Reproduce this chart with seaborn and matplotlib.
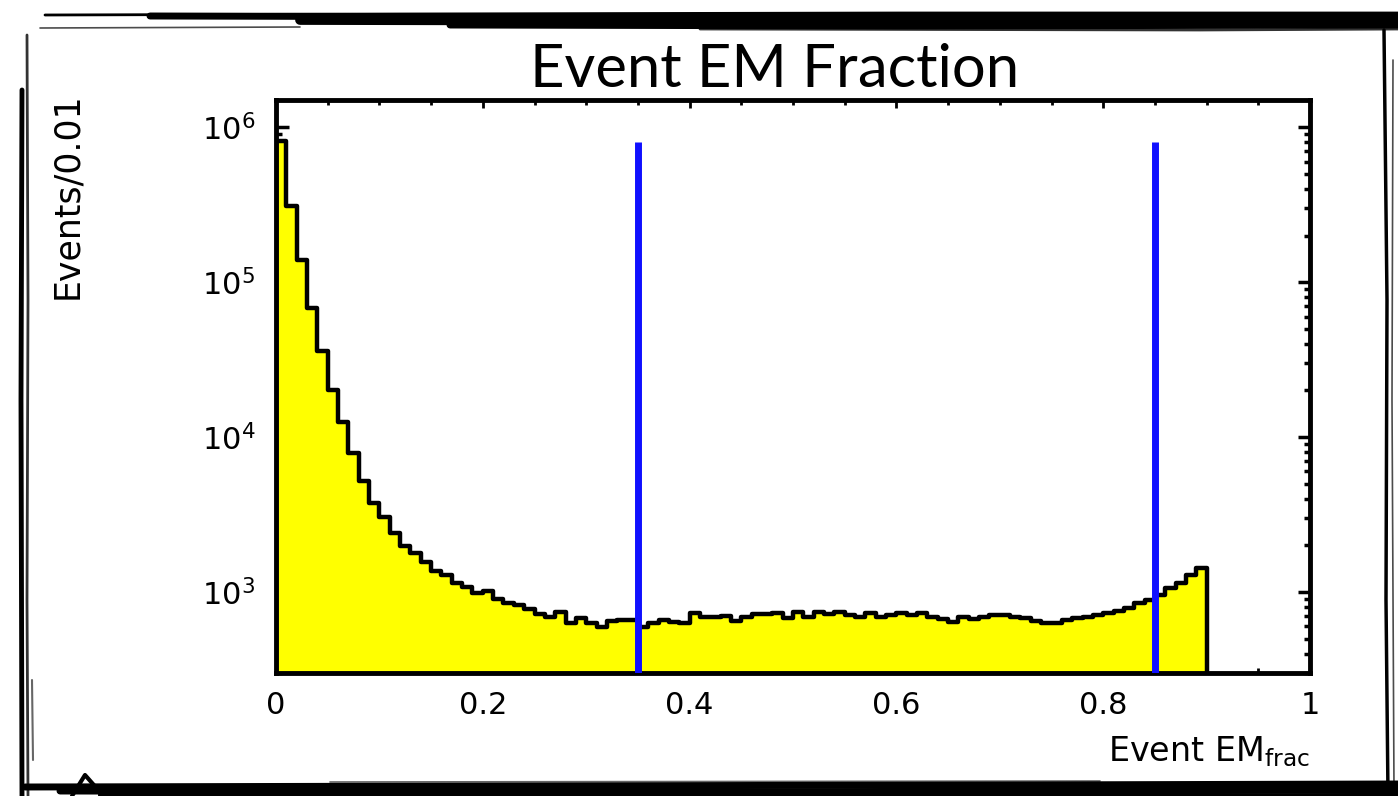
import numpy as np
import pandas as pd
import matplotlib
matplotlib.use("Agg")
import matplotlib.pyplot as plt
from matplotlib.lines import Line2D
from matplotlib.ticker import FixedLocator, MultipleLocator, FixedFormatter, NullFormatter, LogLocator
import seaborn as sns

# Histogram of the event EM fraction, 0.01 wide bins from 0 to 0.9
bin_edges = [round(0.01 * i, 2) for i in range(91)]
counts = [
    820000, 310000, 140000, 68000, 36000, 20000, 12500, 7900, 5200, 3750,
    3050, 2400, 1980, 1790, 1560, 1370, 1290, 1140, 1070, 980,
    1010, 900, 850, 825, 780, 720, 690, 745, 630, 680,
    630, 595, 650, 660, 660, 595, 630, 655, 640, 630,
    730, 685, 685, 700, 650, 685, 720, 720, 730, 680,
    745, 690, 745, 720, 740, 711, 690, 732, 690, 711,
    732, 711, 732, 690, 670, 640, 690, 670, 690, 711,
    711, 690, 680, 650, 630, 631, 655, 680, 690, 708,
    730, 755, 790, 850, 887, 950, 1060, 1140, 1290, 1430,
]
bin_centers = [round((a + b) / 2, 3) for a, b in zip(bin_edges[:-1], bin_edges[1:])]

# Selection cut positions
cut_values = [0.35, 0.85]
cut_top = 8.0e5

x_ticks = [0, 0.2, 0.4, 0.6, 0.8, 1]
x_ticklabels = ["0", "0.2", "0.4", "0.6", "0.8", "1"]
y_ticks = [1e3, 1e4, 1e5, 1e6]
y_ticklabels = [r"$\mathdefault{10^{3}}$", r"$\mathdefault{10^{4}}$",
                r"$\mathdefault{10^{5}}$", r"$\mathdefault{10^{6}}$"]

df = pd.DataFrame({"emfrac": bin_centers, "events": counts})

sns.set_theme(style="white")
plt.rcParams["font.family"] = ["DejaVu Sans"]
plt.rcParams["mathtext.fontset"] = "dejavusans"
plt.rcParams["text.color"] = "black"
plt.rcParams["axes.labelcolor"] = "black"
plt.rcParams["xtick.color"] = "black"
plt.rcParams["ytick.color"] = "black"

W, H = 1398, 796
fig = plt.figure(figsize=(W / 100, H / 100), dpi=100)
fig.patch.set_facecolor("white")
ax = fig.add_axes([276 / W, 1 - 673 / H, (1310 - 276) / W, (673 - 100) / H])

sns.histplot(data=df, x="emfrac", weights="events", bins=bin_edges,
             element="step", fill=True, color="#ffff00", alpha=1,
             edgecolor="black", linewidth=3.2, ax=ax)
ax.set_yscale("log")

for c in cut_values:
    ax.plot([c, c], [300, cut_top], color="#1010ff", linewidth=5,
            solid_capstyle="butt", zorder=5)

ax.set_xlim(0, 1)
ax.set_ylim(300, 1.5e6)

ax.xaxis.set_major_locator(FixedLocator(x_ticks))
ax.xaxis.set_major_formatter(FixedFormatter(x_ticklabels))
ax.xaxis.set_minor_locator(MultipleLocator(0.05))
ax.yaxis.set_major_locator(FixedLocator(y_ticks))
ax.yaxis.set_major_formatter(FixedFormatter(y_ticklabels))
ax.yaxis.set_minor_locator(LogLocator(base=10, subs=np.arange(2, 10)))
ax.yaxis.set_minor_formatter(NullFormatter())

ax.tick_params(axis="both", which="both", direction="in", top=True, right=True,
               bottom=True, left=True, color="black", labelcolor="black")
ax.tick_params(axis="x", which="major", length=6, width=2, labelsize=22, pad=13)
ax.tick_params(axis="x", which="minor", length=3.5, width=2)
ax.tick_params(axis="y", which="major", length=9, width=2.5, labelsize=22, pad=15)
ax.tick_params(axis="y", which="minor", length=4.5, width=2.5)

for s in ax.spines.values():
    s.set_visible(True)
    s.set_color("black")
    s.set_linewidth(3.5)

ax.set_xlabel(r"Event EM$_{\mathrm{frac}}$", fontsize=24, loc="right", labelpad=10,
              color="black")
ax.set_ylabel("Events/0.01", fontsize=25, loc="top", labelpad=0, color="black")
ax.yaxis.set_label_coords(-(276 - 84) / (1310 - 276), 1.0 + 8 / 573)

fig.text(775 / W, 1 - 70 / H, "Event EM Fraction", ha="center", va="center",
         fontsize=43, color="black", family=["Lato", "DejaVu Sans"])


# Hand-drawn frame around the figure
def stroke(points, lw, alpha=1.0):
    xs = [p[0] / W for p in points]
    ys = [1 - p[1] / H for p in points]
    fig.add_artist(Line2D(xs, ys, color="black", linewidth=lw, alpha=alpha,
                          solid_capstyle="round", transform=fig.transFigure))


# top edge
stroke([(45, 15), (400, 14), (900, 13), (1398, 13)], 2)
stroke([(150, 16), (600, 17), (1100, 16), (1398, 17)], 5)
stroke([(300, 20), (800, 21), (1398, 20)], 7)
stroke([(450, 25), (900, 26), (1398, 25)], 5)
stroke([(700, 29), (1200, 30), (1398, 29)], 2, 0.8)
stroke([(40, 28), (300, 27)], 1.2, 0.7)
# right edge
stroke([(1384, 30), (1387, 300), (1386, 600), (1388, 796)], 2.5)
stroke([(1393, 60), (1392, 400), (1394, 790)], 1.2, 0.7)
# left edge
stroke([(22, 90), (21, 400), (22, 796)], 3.5)
stroke([(27, 35), (28, 300), (27, 600), (28, 796)], 2, 0.8)
stroke([(32, 680), (33, 760)], 1.5, 0.6)
# bottom edge
stroke([(25, 787), (500, 786), (1000, 785), (1398, 784)], 5)
stroke([(60, 791), (700, 792), (1398, 790)], 5)
stroke([(100, 795), (900, 796), (1398, 795)], 3)
stroke([(330, 782), (1100, 781)], 1.2, 0.6)
stroke([(72, 796), (85, 775), (100, 792)], 3)

fig.savefig("out.png", dpi=100, facecolor="white")
